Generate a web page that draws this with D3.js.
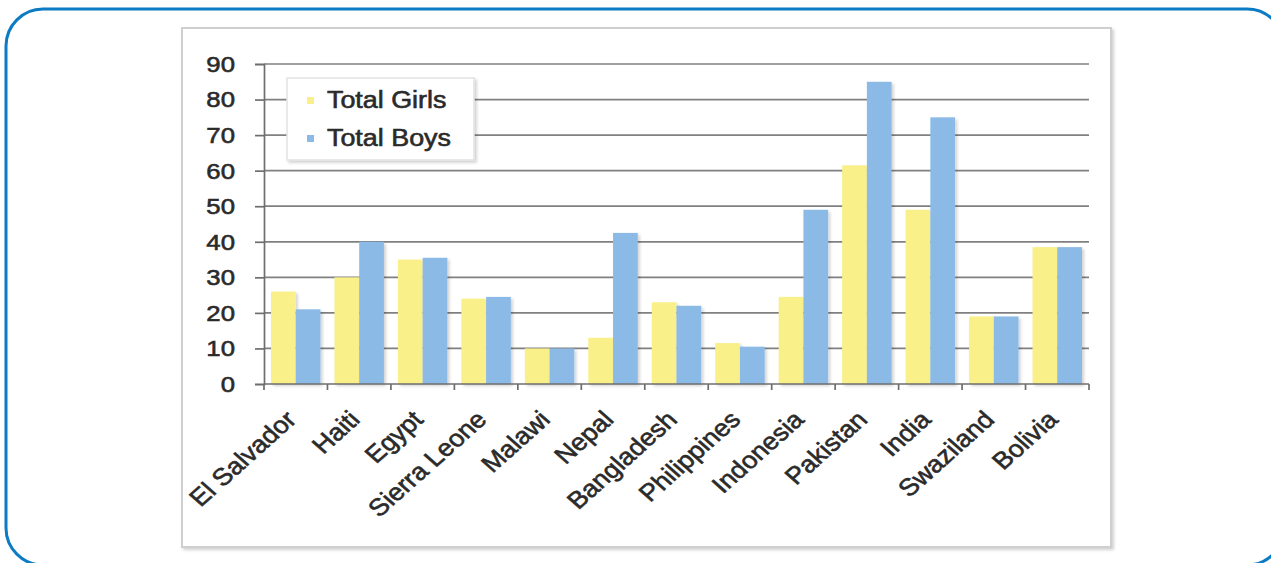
<!DOCTYPE html>
<html>
<head>
<meta charset="utf-8">
<script src="https://cdn.jsdelivr.net/npm/d3@7"></script>
<style>
  html, body { margin: 0; padding: 0; background: #fff; }
  svg { display: block; font-family: "Liberation Sans", Arial, sans-serif; }
</style>
</head>
<body>
<svg id="chart" width="1271" height="563"></svg>
<script>
// data
const categories = ["El Salvador", "Haiti", "Egypt", "Sierra Leone", "Malawi", "Nepal",
  "Bangladesh", "Philippines", "Indonesia", "Pakistan", "India", "Swaziland", "Bolivia"];
const girls = [26, 30, 35, 24, 10, 13, 23, 11.5, 24.5, 61.5, 49, 19, 38.5];
const boys = [21, 40, 35.5, 24.5, 10, 42.5, 22, 10.5, 49, 85, 75, 19, 38.5];
const seriesNames = ["Total Girls", "Total Boys"];
const seriesColors = ["#f9f08a", "#8cbae7"];
const yTicks = [0, 10, 20, 30, 40, 50, 60, 70, 80, 90];

const rows = categories.map((c, i) => ({ country: c, values: [girls[i], boys[i]] }));

const svg = d3.select("#chart");
const plot = { left: 264, right: 1089, top: 64, bottom: 384 };
const stretch = 1.12;   // the source picture is a bit wider than tall
const textColor = "#2a2a2a";

// filters for the soft shadows
const defs = svg.append("defs");
const sh = defs.append("filter").attr("id", "shadow")
  .attr("x", "-10%").attr("y", "-10%").attr("width", "130%").attr("height", "130%");
sh.append("feDropShadow")
  .attr("dx", 2).attr("dy", 2).attr("stdDeviation", 1.5)
  .attr("flood-color", "#000").attr("flood-opacity", 0.18);

// outer rounded blue border
svg.append("rect")
  .attr("x", 6).attr("y", 9)
  .attr("width", 1278).attr("height", 556)
  .attr("rx", 37).attr("ry", 37)
  .attr("fill", "none")
  .attr("stroke", "#0b7bc4")
  .attr("stroke-width", 3);

// chart frame
svg.append("rect")
  .attr("x", 182).attr("y", 28)
  .attr("width", 929).attr("height", 519)
  .attr("fill", "#fff")
  .attr("stroke", "#cfcfcf")
  .attr("stroke-width", 2)
  .attr("filter", "url(#shadow)");

// scales
const x0 = d3.scaleBand()
  .domain(categories)
  .range([plot.left, plot.right])
  .padding(0);

const x1 = d3.scaleBand()
  .domain([0, 1])
  .range([7, x0.bandwidth() - 7]);

const y = d3.scaleLinear()
  .domain([0, 90])
  .range([plot.bottom, plot.top]);

// gridlines
svg.append("g")
  .selectAll("line")
  .data(yTicks.filter(d => d > 0))
  .join("line")
    .attr("x1", plot.left)
    .attr("x2", plot.right)
    .attr("y1", d => y(d))
    .attr("y2", d => y(d))
    .attr("stroke", "#808080")
    .attr("stroke-width", 1.7);

// bars
const groups = svg.append("g")
  .selectAll("g")
  .data(rows)
  .join("g")
    .attr("transform", d => `translate(${x0(d.country)},0)`);

groups.selectAll("rect")
  .data(d => d.values.map((v, i) => ({ i, v })))
  .join("rect")
    .attr("x", d => x1(d.i))
    .attr("width", x1.bandwidth())
    .attr("y", d => y(d.v))
    .attr("height", d => y(0) - y(d.v))
    .attr("fill", d => seriesColors[d.i])
    .attr("filter", "url(#shadow)");

// y axis
const yAxis = d3.axisLeft(y)
  .tickValues(yTicks)
  .tickSize(9)
  .tickPadding(19);

const gy = svg.append("g")
  .attr("transform", `translate(${plot.left},0)`)
  .call(yAxis);

gy.select(".domain").attr("stroke", "#6e6e6e").attr("stroke-width", 1.7);
gy.selectAll(".tick line").attr("stroke", "#6e6e6e").attr("stroke-width", 1.7);
gy.selectAll(".tick text")
  .attr("transform", `translate(-29,0) scale(${stretch},1)`)
  .attr("x", 0)
  .attr("font-size", 23)
  .attr("fill", textColor)
  .attr("stroke", textColor)
  .attr("stroke-width", 0.6)
  .attr("font-family", "Liberation Sans, Arial, sans-serif");

// x axis, ticks on the category borders
const xAxisLine = svg.append("g");
xAxisLine.append("line")
  .attr("x1", plot.left).attr("x2", plot.right)
  .attr("y1", plot.bottom).attr("y2", plot.bottom)
  .attr("stroke", "#6e6e6e").attr("stroke-width", 1.7);

xAxisLine.selectAll(".xtick")
  .data(categories.concat([null]))
  .join("line")
    .attr("class", "xtick")
    .attr("x1", d => d ? x0(d) : plot.right)
    .attr("x2", d => d ? x0(d) : plot.right)
    .attr("y1", plot.bottom)
    .attr("y2", plot.bottom + 6)
    .attr("stroke", "#6e6e6e").attr("stroke-width", 1.7);

// rotated category labels
svg.append("g")
  .selectAll("text")
  .data(categories)
  .join("text")
    .attr("transform", d =>
      `translate(${x0(d) + x0.bandwidth() / 2 + 2},${plot.bottom + 37}) scale(${stretch},1) rotate(-45)`)
    .attr("text-anchor", "end")
    .attr("font-size", 24)
    .attr("fill", textColor)
    .attr("stroke", textColor)
    .attr("stroke-width", 0.6)
    .text(d => d);

// legend
const legend = svg.append("g")
  .attr("transform", "translate(287,78)");

legend.append("rect")
  .attr("width", 187).attr("height", 82)
  .attr("fill", "#fff")
  .attr("stroke", "#e2e2e2")
  .attr("stroke-width", 1.5)
  .attr("filter", "url(#shadow)");

const items = legend.selectAll(".item")
  .data(seriesNames)
  .join("g")
    .attr("class", "item")
    .attr("transform", (d, i) => `translate(0,${22 + i * 38})`);

items.append("rect")
  .attr("x", 20).attr("y", -3)
  .attr("width", 7).attr("height", 7)
  .attr("fill", (d, i) => seriesColors[i]);

items.append("text")
  .attr("transform", `translate(40,8) scale(${stretch},1)`)
  .attr("font-size", 24)
  .attr("fill", textColor)
  .attr("stroke", textColor)
  .attr("stroke-width", 0.6)
  .text(d => d);
</script>
</body>
</html>
